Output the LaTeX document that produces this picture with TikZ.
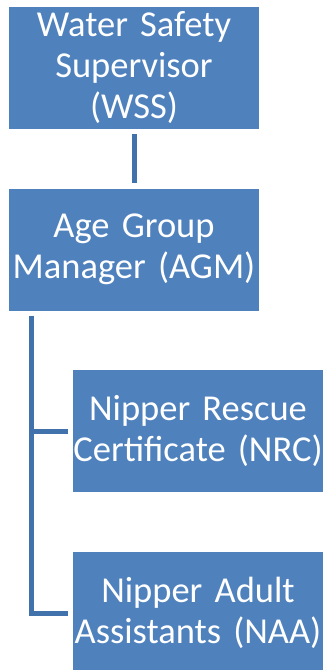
\documentclass[tikz,border=0pt]{standalone}
\usepackage{fontspec}
\setmainfont{Carlito}
\definecolor{boxblue}{HTML}{4F81BD}
\definecolor{linkblue}{HTML}{4272AC}

\begin{document}
\begin{tikzpicture}%
        [x=1pt,y=-1pt,
        role/.style={fill=boxblue,text=white,inner sep=0pt,
          minimum width=250pt,minimum height=122pt,text width=250pt,
          align=center,font=\fontsize{36.5}{41}\selectfont},
        link/.style={color=linkblue,line width=5pt,shorten <=5pt,shorten >=5pt}]

    %% Page frame
    \useasboundingbox (0,0) rectangle (324,670);
    %%
    %% Drawing the boxes
    %%
    \node[role] (wss) at (134, 68)  {Water Safety\\Supervisor\\(WSS)};
    \node[role] (agm) at (134, 249.5) {Age Group\\Manager (AGM)};
    \node[role] (nrc) at (198, 431) {Nipper Rescue\\Certificate (NRC)};
    \node[role] (naa) at (198, 613) {Nipper Adult\\Assistants (NAA)};
    %%
    %% Drawing the connectors
    %%
    \draw[link] (wss) -- (agm);
    \draw[link] ([xshift=23pt]agm.south west) |- (nrc.west);
    \draw[link] ([xshift=23pt]agm.south west) |- (naa.west);
    %%
    %%
    \end{tikzpicture}
\end{document}
